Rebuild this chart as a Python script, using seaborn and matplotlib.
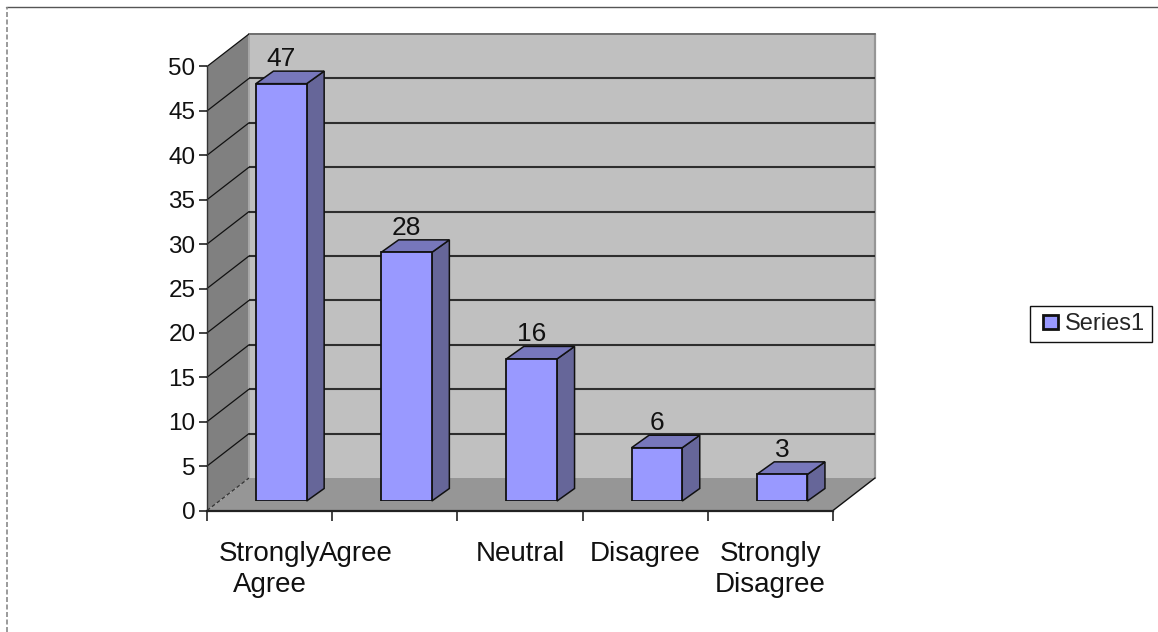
import matplotlib
matplotlib.use("Agg")
import matplotlib.pyplot as plt
from matplotlib.legend_handler import HandlerPatch
from matplotlib.lines import Line2D
from matplotlib.patches import Polygon, Patch, Rectangle
from matplotlib.transforms import ScaledTranslation
import seaborn as sns

categories = ["Strongly\nAgree", "Agree", "Neutral", "Disagree", "Strongly\nDisagree"]
values = [47, 28, 16, 6, 3]
y_ticks = list(range(0, 55, 5))
series_name = "Series1"

sns.set_style("white")
plt.rcParams["font.family"] = ["Liberation Sans", "DejaVu Sans"]

W, H = 1158, 632
DPI = 100
fig = plt.figure(figsize=(W / DPI, H / DPI), dpi=DPI, facecolor="white")


def box(left, top, right, bottom):
    """Axes rectangle from pixel edges measured from the top-left corner."""
    return [left / W, 1 - bottom / H, (right - left) / W, (bottom - top) / H]


# Front plane of the chart box, which carries the ticks
ax = fig.add_axes(box(207, 66.5, 833, 510.5))
ax.set_xlim(-0.5, 4.5)
ax.set_ylim(0, 50)
ax.patch.set_visible(False)

px_x = 5 / 626   # category units per pixel
px_y = 50 / 444  # value units per pixel
room_dx, room_dy = 42 * px_x, 32.5 * px_y
x0, x1 = -0.5, 4.5

wall_left = "#808080"
wall_back = "#C0C0C0"
floor = "#969696"


def face(axes, pts, fc, ec="none", lw=0, z=1):
    axes.add_patch(Polygon(pts, closed=True, facecolor=fc, edgecolor=ec,
                           linewidth=lw, zorder=z, clip_on=False))


face(ax, [(x0, 0), (x0 + room_dx, room_dy), (x0 + room_dx, 50 + room_dy), (x0, 50)], wall_left)
face(ax, [(x0 + room_dx, room_dy), (x1 + room_dx, room_dy),
          (x1 + room_dx, 50 + room_dy), (x0 + room_dx, 50 + room_dy)], wall_back)
face(ax, [(x0, 0), (x1, 0), (x1 + room_dx, room_dy), (x0 + room_dx, room_dy)], floor)

# Back wall borders
ax.plot([x1 + room_dx] * 2, [room_dy, 50 + room_dy], color="#969696", lw=1.6, zorder=1.5, clip_on=False)
ax.plot([x0 + room_dx, x1 + room_dx], [50 + room_dy] * 2, color="#6E6E6E", lw=1.4, zorder=1.5, clip_on=False)
ax.plot([x0 + room_dx] * 2, [room_dy, 50 + room_dy], color="#A8A8A8", lw=1.4, zorder=1.5, clip_on=False)

# Gridlines wrap from the left wall on to the back wall
for v in y_ticks[1:]:
    if v < 50:
        ax.plot([x0 + room_dx, x1 + room_dx], [v + room_dy] * 2, color="#2E2E2E", lw=1.5,
                zorder=1.6, clip_on=False, solid_capstyle="butt")
    ax.plot([x0, x0 + room_dx], [v, v + room_dy], color="#111111", lw=0.9, zorder=1.6, clip_on=False)
ax.plot([x0, x0 + room_dx], [0, room_dy], color="#333333", lw=0.9, ls=(0, (3, 2)), zorder=1.6, clip_on=False)
ax.plot([x1, x1 + room_dx], [0, room_dy], color="#111111", lw=1.0, zorder=1.6, clip_on=False)

for side in ("top", "right"):
    ax.spines[side].set_visible(False)
ax.spines["left"].set_color("#333333")
ax.spines["left"].set_linewidth(1.0)
ax.spines["bottom"].set_color("#222222")
ax.spines["bottom"].set_linewidth(1.6)

ax.set_yticks(y_ticks)
ax.tick_params(axis="y", left=True, length=5.8, width=1.1, color="#111111", pad=2.5,
               labelsize=17.5, labelcolor="#111111")

# Ticks sit between categories, labels at the category centres
ax.set_xticks([i - 0.5 for i in range(len(categories) + 1)])
ax.set_xticklabels([])
ax.set_xticks(list(range(len(categories))), minor=True)
ax.set_xticklabels(categories, minor=True, fontsize=20, color="#111111", linespacing=1.24)
ax.tick_params(axis="x", which="major", bottom=True, length=7, width=1.1, color="#111111")
ax.tick_params(axis="x", which="minor", bottom=False, length=0, pad=22)

# The short "Agree" label runs up against its neighbour
agree_label = ax.get_xticklabels(minor=True)[1]
agree_label.set_transform(agree_label.get_transform()
                          + ScaledTranslation(-38.5 / DPI, 0, fig.dpi_scale_trans))

# Bars stand midway into the box, so their plane is shifted back from the front
bar_ax = fig.add_axes(box(207 + 11.7, 66.5 - 9.5, 833 + 11.7, 510.5 - 9.5))
bar_ax.patch.set_visible(False)
bar_width = 0.405
sns.barplot(x=categories, y=values, color="#9999FF", saturation=1, width=bar_width,
            edgecolor="#111111", linewidth=1.3, ax=bar_ax, zorder=3)
bar_ax.set_xlim(-0.5, 4.5)
bar_ax.set_ylim(0, 50)
bar_ax.axis("off")

bar_dx, bar_dy = 17.5 * px_x, 12.5 * px_y
for i, v in enumerate(values):
    l, r = i - bar_width / 2, i + bar_width / 2
    face(bar_ax, [(r, 0), (r + bar_dx, bar_dy), (r + bar_dx, v + bar_dy), (r, v)],
         "#666699", "#111111", 1.1, 2.5)
    face(bar_ax, [(l, v), (r, v), (r + bar_dx, v + bar_dy), (l + bar_dx, v + bar_dy)],
         "#7777BB", "#111111", 1.1, 2.5)

bar_ax.bar_label(bar_ax.containers[0], labels=[str(v) for v in values], padding=9,
                 fontsize=19, color="#111111", zorder=5)


def swatch(legend, orig_handle, xdescent, ydescent, width, height, fontsize):
    # Square key pushed to the right end of the handle slot
    side = min(width, height)
    return Rectangle((width - side - xdescent, -ydescent), side, side)


# Legend box at the right of the chart
handle = Patch(facecolor="#9999FF", edgecolor="#111111", linewidth=2)
fig.legend(handles=[handle], labels=[series_name], loc="center",
           bbox_to_anchor=(1091 / W, 1 - 324 / H), bbox_transform=fig.transFigure,
           fontsize=17, fancybox=False, framealpha=1, edgecolor="#111111",
           handlelength=0.87, handleheight=0.55, handletextpad=0.3,
           borderpad=0.3, borderaxespad=0,
           handler_map={Patch: HandlerPatch(patch_func=swatch)})

# Outer frame, visible along the top and left edges only
fig.add_artist(Line2D([6 / W, 1], [1 - 7 / H] * 2, transform=fig.transFigure,
                      color="#555555", lw=1.0))
fig.add_artist(Line2D([6.5 / W] * 2, [0, 1 - 7 / H], transform=fig.transFigure,
                      color="#8A8A8A", lw=1.2, ls=(0, (3, 1.5))))

fig.savefig("out.png", dpi=DPI, facecolor="white")
